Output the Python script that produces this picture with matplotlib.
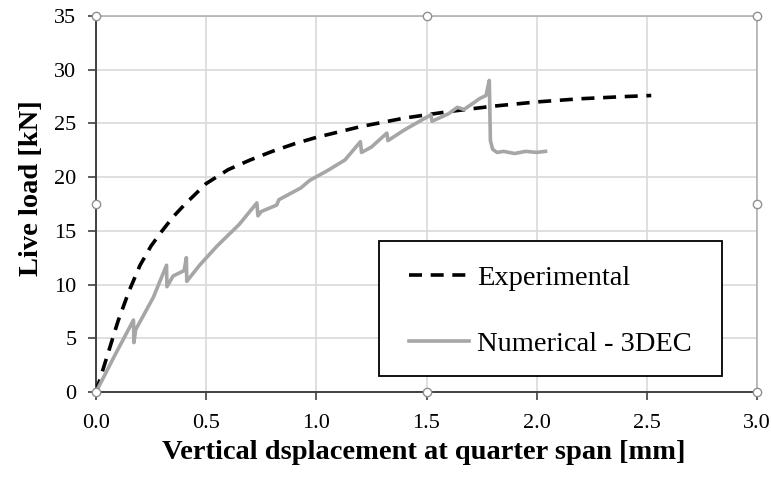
import matplotlib
matplotlib.use("Agg")
import matplotlib.pyplot as plt
from matplotlib.patches import Rectangle

plt.rcParams['font.family'] = ['Liberation Serif', 'DejaVu Serif']

exp_x = [0.0, 0.05, 0.10, 0.15, 0.20, 0.25, 0.30, 0.35, 0.40, 0.45, 0.50, 0.60, 0.70, 0.80, 0.90, 1.00, 1.20, 1.40, 1.60, 1.80, 2.00, 2.20, 2.40, 2.52]
exp_y = [0.0, 3.3, 6.6, 9.4, 11.8, 13.6, 15.0, 16.3, 17.4, 18.4, 19.4, 20.7, 21.6, 22.4, 23.1, 23.7, 24.7, 25.5, 26.1, 26.6, 27.0, 27.3, 27.5, 27.6]

num_x = [0.0, 0.08, 0.17, 0.172, 0.18, 0.26, 0.32, 0.322, 0.35, 0.40, 0.41, 0.412, 0.47, 0.55, 0.65, 0.73, 0.735, 0.75, 0.82, 0.83, 0.93, 0.97, 1.05, 1.13, 1.20, 1.205, 1.25, 1.32, 1.325, 1.40, 1.52, 1.525, 1.60, 1.64, 1.67, 1.72, 1.74, 1.77, 1.785, 1.79, 1.80, 1.82, 1.85, 1.90, 1.95, 2.00, 2.04]
num_y = [0.0, 3.2, 6.7, 4.6, 5.8, 8.8, 11.8, 9.8, 10.8, 11.3, 12.5, 10.3, 11.8, 13.6, 15.6, 17.6, 16.4, 16.8, 17.4, 17.9, 19.0, 19.7, 20.6, 21.6, 23.3, 22.3, 22.8, 24.1, 23.4, 24.4, 25.8, 25.2, 25.9, 26.5, 26.3, 27.0, 27.3, 27.6, 29.0, 23.4, 22.6, 22.3, 22.4, 22.2, 22.4, 22.3, 22.4]

x_ticks = [0.0, 0.5, 1.0, 1.5, 2.0, 2.5, 3.0]
y_ticks = [0, 5, 10, 15, 20, 25, 30, 35]

W, H = 771, 478
x0, x1, y0, y1 = 96, 757, 392, 16
fig = plt.figure(figsize=(W/100, H/100), dpi=100)
ax = fig.add_axes([x0/W, 1 - y0/H, (x1-x0)/W, (y0-y1)/H])

def axx(px):
    return (px - x0) / (x1 - x0)

def axy(py):
    return (y0 - py) / (y0 - y1)

ax.plot(exp_x, exp_y, color='black', lw=2.6, dashes=(3.6, 2.4), label='Experimental', zorder=3)
ax.plot(num_x, num_y, color='#a6a6a6', lw=2.6, label='Numerical - 3DEC', zorder=4)

ax.set_xlim(0, 3)
ax.set_ylim(0, 35)
ax.set_xticks(x_ticks)
ax.set_xticklabels([f"{v:.1f}" for v in x_ticks])
ax.set_yticks(y_ticks)
ax.grid(True, color='#d9d9d9', lw=1.2, zorder=0)
ax.set_axisbelow(True)
ax.tick_params(axis='both', direction='out', length=6, width=1.2, color='#404040', labelsize=16)
ax.tick_params(axis='y', pad=8)
ax.tick_params(axis='x', pad=10)

for s in ['top', 'right']:
    ax.spines[s].set_color('#b0b0b0')
    ax.spines[s].set_linewidth(1.2)
for s in ['left', 'bottom']:
    ax.spines[s].set_color('#404040')
    ax.spines[s].set_linewidth(1.4)

ax.set_xlabel('Vertical dsplacement at quarter span [mm]', fontsize=20.5, fontweight='bold')
ax.xaxis.set_label_coords(axx(424), axy(440))
ax.set_ylabel('Live load [kN]', fontsize=20.5, fontweight='bold')
ax.yaxis.set_label_coords(axx(44), axy(188))

ax.add_patch(Rectangle((axx(379), axy(376)), axx(722) - axx(379), axy(241) - axy(376),
                       transform=ax.transAxes, facecolor='white', edgecolor='black', lw=1.3, zorder=7))
leg = ax.legend(loc='upper left', bbox_to_anchor=(axx(409), axy(265)), fontsize=20.5, frameon=False,
                handlelength=2.1, borderpad=0, labelspacing=1.42, handletextpad=0.3, borderaxespad=0)
leg.set_zorder(8)

hx = [0, 1.5, 3, 0, 3, 0, 1.5, 3]
hy = [0, 0, 0, 17.5, 17.5, 35, 35, 35]
ax.plot(hx, hy, ls='none', marker='o', ms=6, mfc='white', mec='#909090', mew=1.0, clip_on=False, zorder=9)

fig.savefig('out.png', dpi=100)
